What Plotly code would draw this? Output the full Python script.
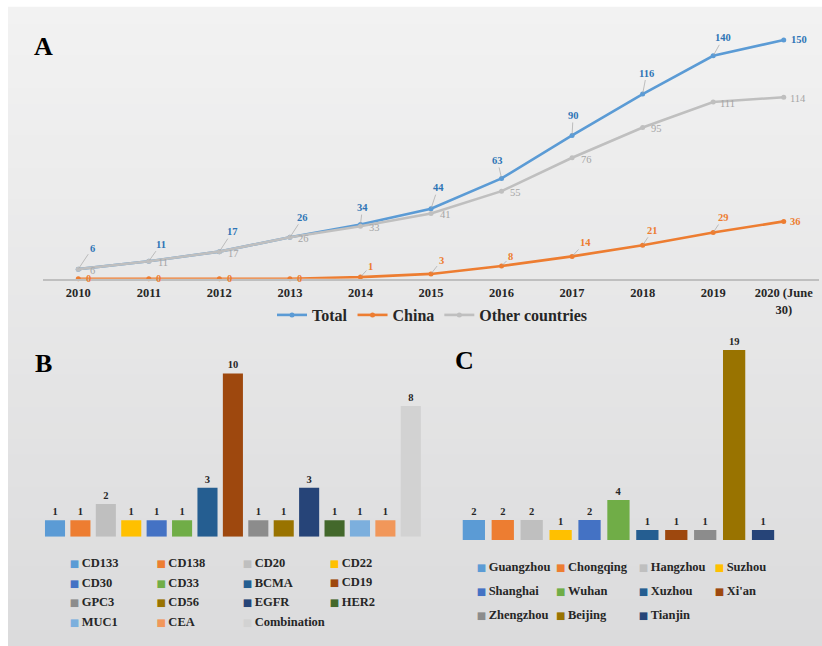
import plotly.graph_objects as go

# ---------------- data ----------------
years = ["2010", "2011", "2012", "2013", "2014", "2015", "2016", "2017", "2018", "2019", "2020 (June<br>30)"]
total = [6, 11, 17, 26, 34, 44, 63, 90, 116, 140, 150]
china = [0, 0, 0, 0, 1, 3, 8, 14, 21, 29, 36]
other = [6, 11, 17, 26, 33, 41, 55, 76, 95, 111, 114]

targets = ["CD133", "CD138", "CD20", "CD22", "CD30", "CD33", "BCMA", "CD19",
           "GPC3", "CD56", "EGFR", "HER2", "MUC1", "CEA", "Combination"]
target_counts = [1, 1, 2, 1, 1, 1, 3, 10, 1, 1, 3, 1, 1, 1, 8]

cities = ["Guangzhou", "Chongqing", "Hangzhou", "Suzhou", "Shanghai", "Wuhan",
          "Xuzhou", "Xi'an", "Zhengzhou", "Beijing", "Tianjin"]
city_counts = [2, 2, 2, 1, 2, 4, 1, 1, 1, 19, 1]

# ---------------- styles ----------------
FONT = "Liberation Serif, Times New Roman, serif"
TXT = "#262626"
W, H = 822, 646

target_colors = ["#5b9bd5", "#ed7d31", "#bfbfbf", "#ffc000", "#4472c4", "#70ad47", "#255e91", "#9e480e",
                 "#8c8c8c", "#997300", "#264478", "#43682b", "#7cafdd", "#f1975a", "#d2d2d2"]
city_colors = ["#5b9bd5", "#ed7d31", "#bfbfbf", "#ffc000", "#4472c4", "#70ad47", "#255e91", "#9e480e",
               "#8c8c8c", "#997300", "#264478"]

# label offsets (pixels) for data labels of panel A; None -> plain label to the right
total_off = [(14, -21), (12, -17), (13, -20), (13, -20), (2, -17), (7, -21), (-4, -18),
             (1, -20), (4, -21), (10, -18), None]
china_off = [None, None, None, None, (10, -11), (10, -13), (9, -9), (13, -14), (10, -15), (10, -15), None]


def px2x(p):
    return p / W


def px2y(p):
    return 1 - p / H


def legend_label(name, col):
    return ('<span style="font-family:DejaVu Sans;font-size:10px;color:%s">\u25a0</span>\u2009%s'
            % (col, name))


fig = go.Figure()

# ---------------- panel A ----------------
xs = list(range(len(years)))
series = [("Total", total, "#5b9bd5"), ("China", china, "#ed7d31"), ("Other countries", other, "#bfbfbf")]
for name, vals, col in series:
    fig.add_trace(go.Scatter(
        x=xs, y=vals, name=name, mode="lines+markers",
        line=dict(color=col, width=2.6), marker=dict(color=col, size=5),
        cliponaxis=False, xaxis="x", yaxis="y", legend="legend", hoverinfo="x+y+name"))

annotations = []
lab_font_b = dict(family=FONT, size=10.5, weight="bold")
for i, v in enumerate(total):
    off = total_off[i]
    f = dict(lab_font_b, color="#2e75b6")
    if off is None:
        annotations.append(dict(x=i, y=v, xref="x", yref="y", text=str(v), showarrow=False,
                                xshift=15, font=f))
    else:
        annotations.append(dict(x=i, y=v, xref="x", yref="y", text=str(v), showarrow=True,
                                ax=off[0], ay=off[1], arrowhead=0, arrowwidth=0.7,
                                arrowcolor="#a6a6a6", standoff=1, font=f))
for i, v in enumerate(china):
    off = china_off[i]
    f = dict(lab_font_b, color="#ed7d31")
    if off is None:
        annotations.append(dict(x=i, y=v, xref="x", yref="y", text=str(v), showarrow=False,
                                xshift=12 if i == len(china) - 1 else 10, font=f))
    else:
        annotations.append(dict(x=i, y=v, xref="x", yref="y", text=str(v), showarrow=True,
                                ax=off[0], ay=off[1], arrowhead=0, arrowwidth=0.7,
                                arrowcolor="#a6a6a6", standoff=1, font=f))
for i, v in enumerate(other):
    annotations.append(dict(x=i, y=v, xref="x", yref="y", text=str(v), showarrow=False,
                            xshift=14, yshift=-1.5,
                            font=dict(family=FONT, size=10.5, color="#a5a5a5")))

# ---------------- panel B ----------------
for i, (name, val, col) in enumerate(zip(targets, target_counts, target_colors)):
    fig.add_trace(go.Bar(
        x=[name], y=[val], width=0.79, marker=dict(color=col, line=dict(width=0)),
        text=[val], textposition="outside", cliponaxis=False,
        textfont=dict(family=FONT, size=10.5, color=TXT, weight="bold"),
        xaxis="x2", yaxis="y2", showlegend=False, legendgroup=name, name=name))
    fig.add_trace(go.Scatter(
        x=[None], y=[None], mode="markers", name=legend_label(name, col), legendgroup=name,
        marker=dict(symbol="square", size=7, color="rgba(0,0,0,0)", line=dict(width=0)),
        xaxis="x2", yaxis="y2", legend="legend%d" % (2 + i % 4)))

# ---------------- panel C ----------------
for i, (name, val, col) in enumerate(zip(cities, city_counts, city_colors)):
    fig.add_trace(go.Bar(
        x=[name], y=[val], width=0.77, marker=dict(color=col, line=dict(width=0)),
        text=[val], textposition="outside", cliponaxis=False,
        textfont=dict(family=FONT, size=10.5, color=TXT, weight="bold"),
        xaxis="x3", yaxis="y3", showlegend=False, legendgroup="c_" + name, name=name))
    fig.add_trace(go.Scatter(
        x=[None], y=[None], mode="markers", name=legend_label(name, col), legendgroup="c_" + name,
        marker=dict(symbol="square", size=7, color="rgba(0,0,0,0)", line=dict(width=0)),
        xaxis="x3", yaxis="y3", legend="legend%d" % (6 + i % 4)))

# panel letters
for letter, cx, cy in [("A", 43, 46), ("B", 43.5, 363), ("C", 464.5, 360)]:
    annotations.append(dict(x=px2x(cx), y=px2y(cy), xref="paper", yref="paper", text=letter,
                            showarrow=False, xanchor="center", yanchor="middle",
                            font=dict(family=FONT, size=26, color="#000000", weight="bold")))

# background gradient
shapes = []
n = 40
top = (242, 242, 242)
bot = (219, 219, 220)
y_top = 1 - 8 / H
for k in range(n):
    t = k / (n - 1)
    c = tuple(round(bot[j] + (top[j] - bot[j]) * t) for j in range(3))
    shapes.append(dict(type="rect", xref="paper", yref="paper", layer="below",
                       x0=8 / W, x1=1, y0=y_top * k / n, y1=y_top * (k + 1) / n + 0.002,
                       fillcolor="rgb(%d,%d,%d)" % c, line=dict(width=0)))

hidden = dict(visible=False, showgrid=False, zeroline=False, fixedrange=True)

leg_base = dict(orientation="v", bgcolor="rgba(0,0,0,0)", borderwidth=0,
                xref="paper", yref="paper", yanchor="middle", xanchor="left",
                traceorder="grouped",
                font=dict(family=FONT, size=12.5, color=TXT, weight="bold"))

layout = dict(
    width=W, height=H, margin=dict(l=0, r=0, t=0, b=0),
    paper_bgcolor="white", plot_bgcolor="rgba(0,0,0,0)",
    barmode="overlay", showlegend=True,
    annotations=annotations, shapes=shapes,
    xaxis=dict(domain=[px2x(43), px2x(819)], range=[-0.5, 10.5], tickvals=xs, ticktext=years,
               showline=True, linecolor="#bfbfbf", linewidth=1.5, ticks="", showgrid=False,
               zeroline=False, anchor="y", fixedrange=True, ticklabelstandoff=2,
               tickfont=dict(family=FONT, size=12.5, color=TXT, weight="bold")),
    yaxis=dict(domain=[px2y(278.7), px2y(24)], range=[0, 160], anchor="x", **hidden),
    xaxis2=dict(domain=[px2x(42.3), px2x(423.5)], range=[-0.5, 14.5], type="category",
                categoryorder="array", categoryarray=targets, anchor="y2", **hidden),
    yaxis2=dict(domain=[px2y(536.7), px2y(357.1)], range=[0, 11], anchor="x2", **hidden),
    xaxis3=dict(domain=[px2x(459.4), px2x(777.5)], range=[-0.5, 10.5], type="category",
                categoryorder="array", categoryarray=cities, anchor="y3", **hidden),
    yaxis3=dict(domain=[px2y(540), px2y(340)], range=[0, 20], anchor="x3", **hidden),
    legend=dict(orientation="h", traceorder="normal", bgcolor="rgba(0,0,0,0)",
                xref="paper", yref="paper",
                x=px2x(272), xanchor="left", y=px2y(315), yanchor="middle",
                font=dict(family=FONT, size=16, color=TXT, weight="bold")),
)

b_rows = [562.3, 581.8, 601.2, 620.7]
b_sq_left = [70.7, 157.4, 243.7, 330.7]
for c in range(4):
    items = [i for i in range(len(targets)) if i % 4 == c]
    rows = b_rows[:len(items)]
    layout["legend%d" % (2 + c)] = dict(leg_base, x=px2x(b_sq_left[c] - 41),
                                       y=px2y((rows[0] + rows[-1]) / 2), tracegroupgap=0.25)
c_rows = [566.7, 590.0, 614.5]
c_sq_left = [477.7, 557.0, 639.7, 715.7]
for c in range(4):
    items = [i for i in range(len(cities)) if i % 4 == c]
    rows = c_rows[:len(items)]
    layout["legend%d" % (6 + c)] = dict(leg_base, x=px2x(c_sq_left[c] - 41),
                                       y=px2y((rows[0] + rows[-1]) / 2), tracegroupgap=4.65)

fig.update_layout(**layout)
fig.write_html("out.html")
